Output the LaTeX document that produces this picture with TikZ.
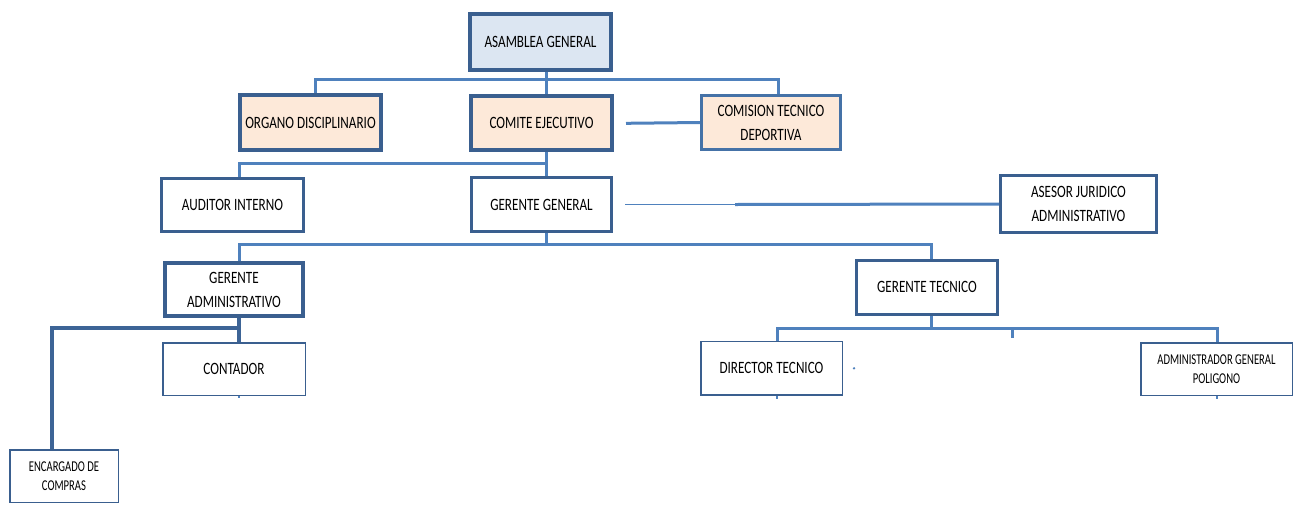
\documentclass[tikz,border=0pt]{standalone}
\usepackage{fontspec}
\setmainfont{Carlito}
\newfontfamily\boxfont[FakeStretch=0.76]{Carlito}
\newfontfamily\smallboxfont[FakeStretch=0.71]{Carlito}
\usetikzlibrary{calc}
\definecolor{bordc}{HTML}{3A5F8F}
\definecolor{bordl}{HTML}{4572A7}
\definecolor{linec}{HTML}{4F81BD}
\definecolor{peach}{HTML}{FDE9D9}
\definecolor{lblue}{HTML}{DCE6F2}
\tikzset{
  box/.style={draw=bordc, rectangle, align=center, inner sep=0pt, text=black,
    font=\boxfont\fontsize{17.3}{24}\selectfont},
  smallbox/.style={font=\smallboxfont\fontsize{15}{18.5}\selectfont},
  thickbox/.style={box, line width=4pt},
  midbox/.style={box, line width=3pt},
  thinbox/.style={box, line width=1.5pt},
  conn/.style={draw=linec, line width=3pt},
  connthick/.style={draw=bordc!85!linec, line width=4pt},
  connthin/.style={draw=linec, line width=1.5pt}
}
\begin{document}
\begin{tikzpicture}[x=1pt, y=-1pt]
\useasboundingbox (0,0) rectangle (1304,504);

% level 1
\node[thickbox, fill=lblue, minimum width=141, minimum height=56] (ag) at (540.5,41.5) {ASAMBLEA GENERAL};
% level 2
\node[thickbox, fill=peach, minimum width=141, minimum height=55] (od) at (310.5,122.5) {ORGANO DISCIPLINARIO};
\node[thickbox, fill=peach, minimum width=141, minimum height=54] (ce) at (541.5,123.3) {COMITE EJECUTIVO};
\node[midbox, draw=bordl, fill=peach, minimum width=139, minimum height=54] (ct) at (771,122.5) {COMISION TECNICO\\DEPORTIVA};
% level 3
\node[midbox, fill=white, minimum width=142, minimum height=53] (ai) at (232.5,205) {AUDITOR INTERNO};
\node[midbox, fill=white, minimum width=140, minimum height=54] (gg) at (541.5,204.5) {GERENTE GENERAL};
\node[midbox, fill=white, minimum width=156, minimum height=57] (aj) at (1078.5,204) {ASESOR JURIDICO\\ADMINISTRATIVO};
% level 4
\node[thickbox, fill=white, minimum width=138, minimum height=53] (ga) at (234,289.5) {GERENTE\\ADMINISTRATIVO};
\node[midbox, fill=white, minimum width=141, minimum height=54] (gt) at (927,287) {GERENTE TECNICO};
% level 5
\node[thinbox, fill=white, minimum width=142.5, minimum height=52.5] (co) at (234,369) {CONTADOR};
\node[thinbox, fill=white, minimum width=141.5, minimum height=53.5] (dt) at (771.5,368.3) {DIRECTOR TECNICO};
\node[thinbox, smallbox, fill=white, minimum width=151.5, minimum height=52.5] (ad) at (1216.5,369) {ADMINISTRADOR GENERAL\\POLIGONO};
\node[thinbox, smallbox, fill=white, minimum width=108.5, minimum height=52.5] (ec) at (64,476) {ENCARGADO DE\\COMPRAS};

% bus coordinates
\coordinate (bus1) at ($(ag.south)+(5.5,8)$);
\coordinate (bus2) at ($(ce.south)+(4.5,11)$);
\coordinate (bus3) at ($(gg.south)+(4.5,11)$);
\coordinate (bus4) at ($(ga.south)+(5,10)$);
\coordinate (bus5) at ($(gt.south)+(4,13)$);
\coordinate (tick) at ($(bus5)+(81,0)$);
\coordinate (ajmid) at ($(gg.east)+(122,0)$);

% connectors
\draw[conn] ([xshift=5.5]ag.south) -- ([xshift=4.5]ce.north);
\draw[conn] ([xshift=4.5]od.north) |- (bus1) -| ([xshift=7]ct.north);
\draw[conn] ([xshift=12]ce.east) -- (ct.west);

\draw[conn] ([xshift=4.5]ce.south) -- ([xshift=4.5]gg.north);
\draw[conn] (bus2) -| ([xshift=6.5]ai.north);

\draw[connthin] ([xshift=12]gg.east) -- (ajmid);
\draw[conn] (ajmid) -- (aj.west);

\draw[conn] ([xshift=4.5]gg.south) -- (bus3);
\draw[conn] ([xshift=5]ga.north) |- (bus3) -| ([xshift=4]gt.north);

\draw[connthick] ([xshift=5]ga.south) -- ([xshift=5]co.north);
\draw[connthick] (bus4) -| ([xshift=-12]ec.north);

\draw[conn] ([xshift=4]gt.south) -- (bus5);
\draw[conn] ([xshift=5.5]dt.north) |- (bus5) -| ([xshift=0.5]ad.north);
\draw[conn] (tick) -- ++(0,9);

% small stubs
\draw[conn, line width=2pt] ([xshift=5]co.south) -- ++(0,2);
\draw[conn, line width=2pt] ([xshift=5.5]dt.south) -- ++(0,3);
\draw[conn, line width=2pt] ([xshift=0.5]ad.south) -- ++(0,3);
\fill[linec] ($(dt.east)+(11,0)$) circle (1.3);
\end{tikzpicture}
\end{document}
